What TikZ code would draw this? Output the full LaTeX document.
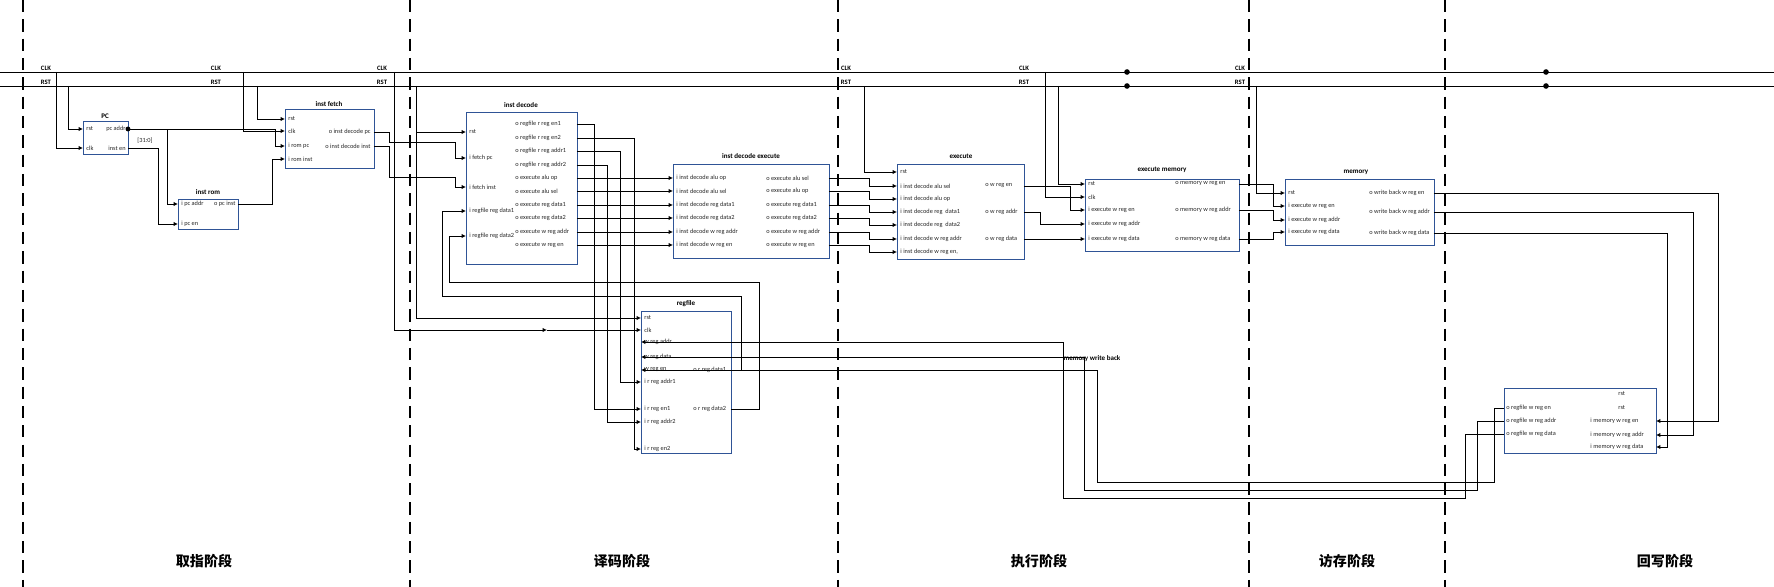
\documentclass[tikz,border=0pt]{standalone}
\usepackage{fontspec}
\setmainfont{Carlito}
\newfontfamily\cjk{Noto Sans CJK SC}
\usetikzlibrary{arrows.meta}
\definecolor{boxblue}{RGB}{47,84,150}
\tikzset{
  box/.style={draw=boxblue, line width=0.4pt, anchor=north west, inner sep=0pt, outer sep=0pt},
  pl/.style={font=\fontsize{3.6}{4}\selectfont, inner sep=0.6pt, text=black!85},
  ttl/.style={font=\fontsize{4}{5}\selectfont\bfseries, inner sep=0pt},
  bl/.style={font=\fontsize{3.8}{4}\selectfont\bfseries, inner sep=0pt},
  wire/.style={line width=0.5pt},
  sig/.style={wire, -{Latex[length=2.5pt,width=2.5pt]}},
  bus/.style={line width=0.5pt},
  divider/.style={line width=1.3pt, dash pattern=on 7pt off 4pt},
  stage/.style={font=\cjk\fontsize{8}{9}\selectfont\bfseries},
}
\begin{document}
\begin{tikzpicture}[x=0.02cm, y=-0.02cm]
  \useasboundingbox (0,0) rectangle (1774,587);

  % stage dividers
  \foreach \x in {23,410,838,1249,1445}
    \draw[divider] (\x,0) -- (\x,587);

  % clock and reset
  \coordinate (clkL) at (0,72);   \coordinate (clkR) at (1774,72);
  \coordinate (rstL) at (0,86);   \coordinate (rstR) at (1774,86);
  \draw[bus] (clkL) -- (clkR);
  \draw[bus] (rstL) -- (rstR);
  \foreach \x in {46,216,382,846,1024,1240} {
    \node[bl] at (\x,68) {CLK};
    \node[bl] at (\x,82) {RST};
  }
  \foreach \x in {1127,1546} {
    \fill (\x,72) circle (1.6pt);
    \fill (\x,86) circle (1.6pt);
  }

  % taps from the buses
  \coordinate (k1) at (56,72);    \coordinate (r1) at (68,86);
  \coordinate (k2) at (243,72);   \coordinate (r2) at (257,86);
  \coordinate (k3) at (394,72);   \coordinate (r3) at (416,86);
  \coordinate (r4) at (864,86);
  \coordinate (k5) at (1045,72);  \coordinate (r5) at (1058,86);
  \coordinate (r6) at (1256,86);

  % pc
  \node[box, minimum width=0.9cm, minimum height=0.66cm] (pc) at (83,121) {};
  \node[ttl] (pct) at (105,116) {PC};
  \node[pl, anchor=west] (pcrst) at (85,129) {rst};
  \node[pl, anchor=west] (pcclk) at (85,148) {clk};
  \node[pl, anchor=east] (pcaddr) at (127,129) {pc addr};
  \node[pl, anchor=east] (pcen) at (127,148) {inst en};
  \node[pl] (bits) at (145,141) {[31:0]};

  % inst rom
  \node[box, minimum width=1.2cm, minimum height=0.6cm] (rom) at (178,199) {};
  \node[ttl] (romt) at (208,192) {inst rom};
  \node[pl, anchor=west] (rpa) at (180,204) {i pc addr};
  \node[pl, anchor=west] (rpe) at (180,224) {i pc en};
  \node[pl, anchor=east] (rpi) at (237,204) {o pc inst};

  % inst fetch
  \node[box, minimum width=1.78cm, minimum height=1.18cm] (fetch) at (285,109) {};
  \node[ttl] (fetcht) at (329,104) {inst fetch};
  \node[pl, anchor=west] (frst) at (287,119) {rst};
  \node[pl, anchor=west] (fclk) at (287,131) {clk};
  \node[pl, anchor=west] (frp) at (287,146) {i rom pc};
  \node[pl, anchor=west] (fri) at (287,159) {i rom inst};
  \node[pl, anchor=east] (fdp) at (372,132) {o inst decode pc};
  \node[pl, anchor=east] (fdi) at (372,146) {o inst decode inst};

  % inst decode
  \node[box, minimum width=2.22cm, minimum height=3.04cm] (dec) at (466,112) {};
  \node[ttl] (dect) at (521,105) {inst decode};
  \node[pl, anchor=west] (drst) at (468,132) {rst};
  \node[pl, anchor=west] (dfp) at (468,158) {i fetch pc};
  \node[pl, anchor=west] (dfi) at (468,187) {i fetch inst};
  \node[pl, anchor=west] (drd1) at (468,211) {i regfile reg data1};
  \node[pl, anchor=west] (drd2) at (468,236) {i regfile reg data2};
  \node[pl, anchor=west] (den1) at (514,124) {o regfile r reg en1};
  \node[pl, anchor=west] (den2) at (514,138) {o regfile r reg en2};
  \node[pl, anchor=west] (dad1) at (514,151) {o regfile r reg addr1};
  \node[pl, anchor=west] (dad2) at (514,165) {o regfile r reg addr2};
  \node[pl, anchor=west] (dao) at (514,178) {o execute alu op};
  \node[pl, anchor=west] (das) at (514,191) {o execute alu sel};
  \node[pl, anchor=west] (dd1) at (514,205) {o execute reg data1};
  \node[pl, anchor=west] (dd2) at (514,218) {o execute reg data2};
  \node[pl, anchor=west] (dwa) at (514,232) {o execute w reg addr};
  \node[pl, anchor=west] (dwe) at (514,245) {o execute w reg en};

  % inst decode execute
  \node[box, minimum width=3.12cm, minimum height=1.88cm] (de) at (673,164) {};
  \node[ttl] (det) at (751,156) {inst decode execute};
  \node[pl, anchor=west] (eao) at (675,178) {i inst decode alu op};
  \node[pl, anchor=west] (eas) at (675,191) {i inst decode alu sel};
  \node[pl, anchor=west] (ed1) at (675,205) {i inst decode reg data1};
  \node[pl, anchor=west] (ed2) at (675,218) {i inst decode reg data2};
  \node[pl, anchor=west] (ewa) at (675,232) {i inst decode w reg addr};
  \node[pl, anchor=west] (ewe) at (675,245) {i inst decode w reg en};
  \node[pl, anchor=west] (xo1) at (765,178) {o execute alu sel};
  \node[pl, anchor=west] (xo2) at (765,191) {o execute alu op};
  \node[pl, anchor=west] (xo3) at (765,205) {o execute reg data1};
  \node[pl, anchor=west] (xo4) at (765,218) {o execute reg data2};
  \node[pl, anchor=west] (xo5) at (765,232) {o execute w reg addr};
  \node[pl, anchor=west] (xo6) at (765,245) {o execute w reg en};

  % execute
  \node[box, minimum width=2.54cm, minimum height=1.9cm] (exe) at (897,164) {};
  \node[ttl] (exet) at (961,156) {execute};
  \node[pl, anchor=west] (xrst) at (899,172) {rst};
  \node[pl, anchor=west] (xi1) at (899,186) {i inst decode alu sel};
  \node[pl, anchor=west] (xi2) at (899,199) {i inst decode alu op};
  \node[pl, anchor=west] (xi3) at (899,212) {i inst decode reg\ \ data1};
  \node[pl, anchor=west] (xi4) at (899,225) {i inst decode reg\ \ data2};
  \node[pl, anchor=west] (xi5) at (899,239) {i inst decode w reg addr};
  \node[pl, anchor=west] (xi6) at (899,252) {i inst decode w reg en,};
  \node[pl, anchor=west] (xwen) at (984,186) {o w reg en};
  \node[pl, anchor=west] (xwad) at (984,212) {o w reg addr};
  \node[pl, anchor=west] (xwda) at (984,239) {o w reg data};

  % execute memory
  \node[box, minimum width=3.08cm, minimum height=1.44cm] (em) at (1085,179) {};
  \node[ttl] (emt) at (1162,170) {execute memory};
  \node[pl, anchor=west] (mrst) at (1087,184) {rst};
  \node[pl, anchor=west] (mclk) at (1087,197) {clk};
  \node[pl, anchor=west] (mwen) at (1087,210) {i execute w reg en};
  \node[pl, anchor=west] (mwad) at (1087,224) {i execute w reg addr};
  \node[pl, anchor=west] (mwda) at (1087,239) {i execute w reg data};
  \node[pl, anchor=west] (mo1) at (1174,184) {o memory w reg en};
  \node[pl, anchor=west] (mo2) at (1174,210) {o memory w reg addr};
  \node[pl, anchor=west] (mo3) at (1174,239) {o memory w reg data};

  % memory
  \node[box, minimum width=2.98cm, minimum height=1.32cm] (mem) at (1285,179) {};
  \node[ttl] (memt) at (1356,172) {memory};
  \node[pl, anchor=west] (nrst) at (1287,193) {rst};
  \node[pl, anchor=west] (nwen) at (1287,206) {i execute w reg en};
  \node[pl, anchor=west] (nwad) at (1287,220) {i execute w reg addr};
  \node[pl, anchor=west] (nwda) at (1287,232) {i execute w reg data};
  \node[pl, anchor=west] (no1) at (1368,193) {o write back w reg en};
  \node[pl, anchor=west] (no2) at (1368,212) {o write back w reg addr};
  \node[pl, anchor=west] (no3) at (1368,233) {o write back w reg data};

  % memory write back
  \node[box, minimum width=3.04cm, minimum height=1.3cm] (mwb) at (1504,388) {};
  \node[ttl] (mwbt) at (1092,359) {memory write back};
  \node[pl, anchor=west] (bo1) at (1505,408) {o regfile w reg en};
  \node[pl, anchor=west] (bo2) at (1505,421) {o regfile w reg addr};
  \node[pl, anchor=west] (bo3) at (1505,434) {o regfile w reg data};
  \node[pl, anchor=west] (brst1) at (1617,394) {rst};
  \node[pl, anchor=west] (brst2) at (1617,408) {rst};
  \node[pl, anchor=west] (bi1) at (1589,421) {i memory w reg en};
  \node[pl, anchor=west] (bi2) at (1589,435) {i memory w reg addr};
  \node[pl, anchor=west] (bi3) at (1589,447) {i memory w reg data};

  % regfile
  \node[box, minimum width=1.8cm, minimum height=2.84cm] (rf) at (641,311) {};
  \node[ttl] (rft) at (686,304) {regfile};
  \node[pl, anchor=west] (rfrst) at (643,318) {rst};
  \node[pl, anchor=west] (rfclk) at (643,330) {clk};
  \node[pl, anchor=west] (rfwa) at (643,342) {w reg addr};
  \node[pl, anchor=west] (rfwd) at (643,357) {w reg data};
  \node[pl, anchor=west] (rfwe) at (643,370) {w reg en};
  \node[pl, anchor=west] (rfa1) at (643,382) {i r reg addr1};
  \node[pl, anchor=west] (rfe1) at (643,409) {i r reg en1};
  \node[pl, anchor=west] (rfa2) at (643,422) {i r reg addr2};
  \node[pl, anchor=west] (rfe2) at (643,449) {i r reg en2};
  \node[pl, anchor=west] (rfd1) at (692,370) {o r reg data1};
  \node[pl, anchor=west] (rfd2) at (692,409) {o r reg data2};

  % fetch stage wiring
  \draw[sig] (k1) |- (pc.west |- pcclk);
  \draw[sig] (r1) |- (pc.west |- pcrst);
  \draw[sig] (k2) |- (fetch.west |- fclk);
  \draw[sig] (r2) |- (fetch.west |- frst);
  \draw[sig] (pc.east |- pcaddr) -- ++(147,0) |- (fetch.west |- frp);
  \draw[sig] (pc.east |- pcaddr) -- ++(39,0) |- (rom.west |- rpa);
  \fill (pc.east |- pcaddr) circle (1.4pt);
  \draw[sig] (pc.east |- pcen) -- ++(30,0) |- (rom.west |- rpe);
  \draw[sig] (rom.east |- rpi) -- ++(34,0) |- (fetch.west |- fri);

  % decode stage wiring
  \draw[sig] (fetch.east |- fdp) -- ++(15,0) -- ++(0,10) -- ++(66,0) |- (dec.west |- dfp);
  \draw[sig] (fetch.east |- fdi) -- ++(15,0) -- ++(0,31) -- ++(66,0) |- (dec.west |- dfi);
  \draw[sig] (r3) |- (rf.west |- rfrst);
  \draw[sig] (r3 |- drst) -- (dec.west |- drst);
  \coordinate (clkmark) at (547,330);
  \draw[sig] (k3) |- (clkmark);
  \draw[sig] (clkmark) -- (rf.west |- rfclk);
  \draw[sig] (dec.east |- den1) -- ++(17,0) |- (rf.west |- rfe1);
  \draw[sig] (dec.east |- den2) -- ++(57,0) |- (rf.west |- rfe2);
  \draw[sig] (dec.east |- dad1) -- ++(43,0) |- (rf.west |- rfa1);
  \draw[sig] (dec.east |- dad2) -- ++(30,0) |- (rf.west |- rfa2);
  \draw[sig] (rf.east |- rfd1) -- ++(10,0) -- ++(0,-74) -- ++(-299,0) |- (dec.west |- drd1);
  \draw[sig] (rf.east |- rfd2) -- ++(28,0) -- ++(0,-127) -- ++(-310,0) |- (dec.west |- drd2);
  \foreach \o/\i in {dao/eao,das/eas,dd1/ed1,dd2/ed2,dwa/ewa,dwe/ewe}
    \draw[sig] (dec.east |- \o) -- (de.west |- \i);

  % execute stage wiring
  \foreach \o/\i in {xo1/xi1,xo2/xi2,xo3/xi3,xo4/xi4,xo5/xi5,xo6/xi6}
    \draw[sig] (de.east |- \o) -- ++(40,0) |- (exe.west |- \i);
  \draw[sig] (r4) |- (exe.west |- xrst);
  \draw[sig] (exe.east |- xwen) -- ++(46,0) |- (em.west |- mwen);
  \draw[sig] (exe.east |- xwad) -- ++(16,0) |- (em.west |- mwad);
  \draw[sig] (exe.east |- xwda) -- (em.west |- mwda);
  \draw[sig] (k5) |- (em.west |- mclk);
  \draw[sig] (r5) |- (em.west |- mrst);

  % memory stage wiring
  \draw[sig] (em.east |- mo1) -- ++(34,0) |- (mem.west |- nwen);
  \draw[sig] (em.east |- mo2) -- ++(34,0) |- (mem.west |- nwad);
  \draw[sig] (em.east |- mo3) -- ++(34,0) |- (mem.west |- nwda);
  \draw[sig] (r6) |- (mem.west |- nrst);

  % write back wiring
  \draw[sig] (mem.east |- no1) -- ++(284,0) |- (mwb.east |- bi1);
  \draw[sig] (mem.east |- no2) -- ++(259,0) |- (mwb.east |- bi2);
  \draw[sig] (mem.east |- no3) -- ++(233,0) |- (mwb.east |- bi3);
  \draw[sig] (mwb.west |- bo1) -- ++(-10,0) -- ++(0,74) -- ++(-397,0) |- (rf.west |- rfwe);
  \draw[sig] (mwb.west |- bo2) -- ++(-27,0) -- ++(0,69) -- ++(-393,0) |- (rf.west |- rfwd);
  \draw[sig] (mwb.west |- bo3) -- ++(-39,0) -- ++(0,64) -- ++(-402,0) |- (rf.west |- rfwa);

  % stage names
  \node[stage] (s1) at (204,561) {取指阶段};
  \node[stage] (s2) at (622,561) {译码阶段};
  \node[stage] (s3) at (1039,561) {执行阶段};
  \node[stage] (s4) at (1347,561) {访存阶段};
  \node[stage] (s5) at (1665,561) {回写阶段};
\end{tikzpicture}
\end{document}
